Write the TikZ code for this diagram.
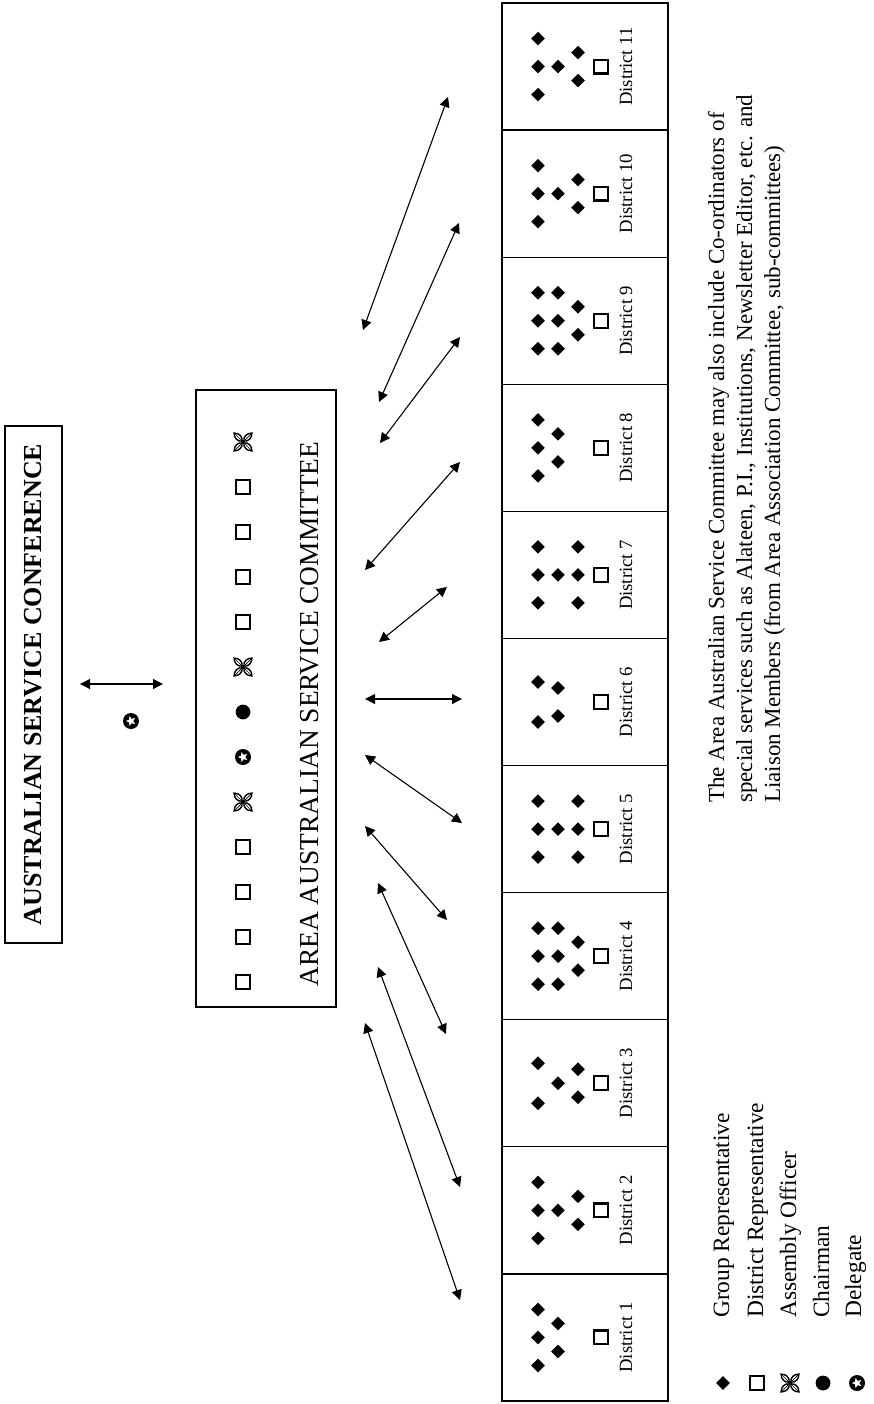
\documentclass[tikz,border=0pt]{standalone}
\usepackage{fontspec}
\setmainfont{Liberation Serif}
\usetikzlibrary{arrows.meta,shapes.geometric}
\tikzset{
  gdiam/.pic={\fill (0,-6.8) -- (6.8,0) -- (0,6.8) -- (-6.8,0) -- cycle;},
  gsq/.pic={\draw[line width=2.2pt] (-6.9,-6.9) rectangle (6.9,6.9);},
  gdot/.pic={\fill (0,0) circle (7.4);},
  gdel/.pic={\fill (0,0) circle (8);
    \node[star, star points=5, star point ratio=2.3, fill=white, inner sep=0pt, minimum size=10.5pt, rotate=90] at (0,0) {};},
  gflow/.pic={\foreach \a in {45,135,225,315}{
      \draw[line width=1.4pt, fill=white, rotate=\a] (1.2,0) .. controls (4,3.6) and (9,3.6) .. (12.6,0) .. controls (9,-3.6) and (4,-3.6) .. (1.2,0) -- cycle;
      \draw[line width=0.7pt, rotate=\a] (3,0) -- (11,0);}},
}
\newcommand\dpat[2]{%
  \ifcase#1\or
    \foreach \o in {-28,0,28} {\pic at (538,{#2+(\o)}) {gdiam};}
    \foreach \o in {-14,14} {\pic at (558,{#2+(\o)}) {gdiam};}
  \or
    \foreach \o in {-28,0,28} {\pic at (538,{#2+(\o)}) {gdiam};}
    \pic at (558,#2) {gdiam};
    \foreach \o in {-14,14} {\pic at (578,{#2+(\o)}) {gdiam};}
  \or
    \foreach \o in {-20,20} {\pic at (538,{#2+(\o)}) {gdiam};}
    \pic at (558,#2) {gdiam};
    \foreach \o in {-14,14} {\pic at (578,{#2+(\o)}) {gdiam};}
  \or
    \foreach \o in {-28,0,28} {\pic at (538,{#2+(\o)}) {gdiam};}
    \foreach \o in {-28,0,28} {\pic at (558,{#2+(\o)}) {gdiam};}
    \foreach \o in {-14,14} {\pic at (578,{#2+(\o)}) {gdiam};}
  \or
    \foreach \o in {-28,0,28} {\pic at (538,{#2+(\o)}) {gdiam};}
    \pic at (558,#2) {gdiam};
    \foreach \o in {-28,0,28} {\pic at (578,{#2+(\o)}) {gdiam};}
  \or
    \foreach \o in {-20,20} {\pic at (538,{#2+(\o)}) {gdiam};}
    \foreach \o in {-14,14} {\pic at (558,{#2+(\o)}) {gdiam};}
  \fi}
\begin{document}
\begin{tikzpicture}[x=1pt,y=-1pt,
  biarrow/.style={line width=1.1pt,{Triangle[length=10pt,width=10pt]}-{Triangle[length=10pt,width=10pt]}},
  frame/.style={draw,line width=1.2pt,inner sep=0pt},
  dtext/.style={rotate=90,inner sep=0pt,font=\fontsize{18.7}{22}\selectfont},
  legtext/.style={rotate=90,inner sep=0pt,anchor=base west,font=\fontsize{23.4}{27}\selectfont},
  maintext/.style={rotate=90,inner sep=0pt,anchor=base west,font=\fontsize{23}{27}\selectfont},
]
\useasboundingbox (0,0) rectangle (873,1404);
\fill[white] (0,0) rectangle (873,1404);

% Australian Service Conference
\node[frame, rotate=90, minimum width=517pt, minimum height=57pt,
      font=\bfseries\fontsize{26}{30}\selectfont] (asc) at (33.5,684.5) {AUSTRALIAN SERVICE CONFERENCE};
\coordinate (cL) at (80,684);
\coordinate (cR) at (163,684);
\draw[biarrow] (cL) -- (cR);
\pic at (131,721) {gdel};

% Area Australian Service Committee
\node[frame, minimum width=140pt, minimum height=617pt] (area) at (266,698.5) {};
\node[rotate=90, inner sep=0pt, font=\fontsize{27.4}{32}\selectfont] (areatxt) at (310,714) {AREA AUSTRALIAN SERVICE COMMITTEE};
\foreach \k/\s in {0/gsq,1/gsq,2/gsq,3/gsq,4/gflow,5/gdel,6/gdot,7/gflow,8/gsq,9/gsq,10/gsq,11/gsq,12/gflow}{
  \pic at (243,{982-45*\k}) {\s};
}

% Districts
\foreach \i/\p in {1/1,2/2,3/3,4/4,5/5,6/6,7/5,8/1,9/4,10/2,11/2}{
  \pgfmathsetmacro\yc{1401-(\i-0.5)*127.09}
  \node[frame, minimum width=166pt, minimum height=127.09pt] (d\i) at (585,\yc) {};
  \dpat{\p}{\yc}
  \pic at (601,\yc) {gsq};
  \node[dtext] (dt\i) at (626,\yc) {District \i};
}

% Arrows
\foreach \i/\xl/\yl/\xr/\yr in {11/363/330/448/97, 10/379/402/459/223, 9/380/443/460/337,
   8/365/570/460/462, 7/379/642/447/587, 6/365/699/462/699, 5/365/755/462/823,
   4/365/826/447/920, 3/378/883/446/1034, 2/378/967/460/1187, 1/365/1023/460/1300}{
  \coordinate (aL\i) at (\xl,\yl);
  \coordinate (aR\i) at (\xr,\yr);
  \draw[biarrow] (aL\i) -- (aR\i);
}

% Note
\node[maintext] (n1) at (724,803) {The Area Australian Service Committee may also include Co-ordinators of};
\node[maintext] (n2) at (752,803) {special services such as Alateen, P.I., Institutions, Newsletter Editor, etc. and};
\node[maintext] (n3) at (780,803) {Liaison Members (from Area Association Committee, sub-committees)};

% Legend
\pic at (723,1383) {gdiam};
\pic at (757,1383) {gsq};
\pic at (790,1383) {gflow};
\pic at (823,1383) {gdot};
\pic at (857,1383) {gdel};
\node[legtext] (l1) at (729,1318) {Group Representative};
\node[legtext] (l2) at (763,1318) {District Representative};
\node[legtext] (l3) at (796,1318) {Assembly Officer};
\node[legtext] (l4) at (829,1318) {Chairman};
\node[legtext] (l5) at (861,1318) {Delegate};
\end{tikzpicture}
\end{document}
